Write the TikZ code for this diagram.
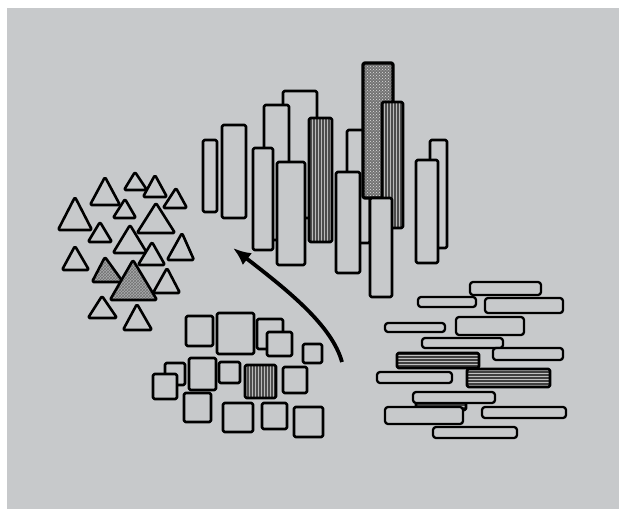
\documentclass[tikz,border=0pt]{standalone}
\usetikzlibrary{arrows.meta,patterns}
\definecolor{paper}{RGB}{199,201,203}
\begin{document}
\begin{tikzpicture}[x=1pt,y=-1pt,>=Latex,
  outl/.style={draw=black,line width=2.6pt,rounded corners=1.5pt,line join=round,fill=paper},
  vhatch/.style={outl,fill=none,preaction={fill=black!70},preaction={pattern=vertical lines,pattern color=gray!55}},
  hhatch/.style={outl,fill=none,preaction={fill=black!75},preaction={pattern=horizontal lines,pattern color=gray!50}},
  dotbox/.style={outl,line width=3.2pt,fill=none,preaction={fill=black!55},preaction={pattern=crosshatch dots,pattern color=gray!25}},
  xhatch/.style={outl,fill=none,preaction={fill=paper!85!black},preaction={pattern=crosshatch,pattern color=black!55}},
  bar/.style={outl,line width=2.3pt,rounded corners=3pt}]
\useasboundingbox (0,0) rectangle (622,509);
\fill[white] (0,0) rectangle (622,509);
\fill[paper] (7,8) rectangle (619,509);

% tall boxes
\draw[outl] (283,91) rectangle (317,218);
\draw[outl] (264,105) rectangle (289,240);
\draw[outl] (253,148) rectangle (273,250);
\draw[outl] (277,162) rectangle (305,265);
\draw[vhatch] (309,118) rectangle (332,242);
\draw[outl] (203,140) rectangle (217,212);
\draw[outl] (222,125) rectangle (246,218);
\draw[outl] (347,130) rectangle (370,243);
\draw[dotbox] (363,63) rectangle (393,198);
\draw[vhatch] (382,102) rectangle (403,228);
\draw[outl] (336,172) rectangle (360,273);
\draw[outl] (370,198) rectangle (392,297);
\draw[outl] (430,140) rectangle (447,248);
\draw[outl] (416,160) rectangle (438,263);

% triangles: left/apex/right x, apex y, base y
\foreach \l/\m/\r/\t/\b in {90/105/120/177/205, 124/135/147/172/190, 143/155/167/175/197,
  163/176/187/188/208, 58/75/92/197/230, 113/125/136/199/218, 137/156/175/203/233,
  88/100/112/222/242, 113/130/147/225/253, 167/182/194/233/260, 62/75/89/246/270,
  138/152/165/242/265}
  \draw[outl] (\l,\b) -- (\m,\t) -- (\r,\b) -- cycle;
\draw[xhatch] (92,282) -- (105,257) -- (123,282) -- cycle;
\draw[xhatch] (110,300) -- (133,260) -- (157,300) -- cycle;
\foreach \l/\m/\r/\t/\b in {153/167/180/268/293, 88/102/117/296/318, 123/137/152/304/330}
  \draw[outl] (\l,\b) -- (\m,\t) -- (\r,\b) -- cycle;

% squares
\foreach \a/\b/\c/\d in {186/316/213/346, 217/313/254/354, 257/319/283/349, 267/332/292/356,
  303/344/322/363, 165/363/185/385, 153/374/177/399, 189/358/216/390, 219/362/240/383}
  \draw[outl] (\a,\b) rectangle (\c,\d);
\draw[vhatch] (245,365) rectangle (276,398);
\foreach \a/\b/\c/\d in {283/367/307/393, 184/393/211/422, 223/403/253/432,
  262/403/287/429, 294/407/323/437}
  \draw[outl] (\a,\b) rectangle (\c,\d);

% flat bars
\foreach \a/\b/\c/\d in {470/282/541/295, 418/297/476/307, 485/298/563/313, 385/323/445/332,
  456/317/524/335, 422/338/503/348, 493/348/563/360}
  \draw[bar] (\a,\b) rectangle (\c,\d);
\draw[bar,hhatch] (397,353) rectangle (479,368);
\draw[bar] (377,372) rectangle (452,383);
\draw[bar,hhatch] (467,369) rectangle (550,387);
\draw[bar,hhatch] (416,397) rectangle (466,410);
\foreach \a/\b/\c/\d in {413/392/495/403, 385/407/463/424, 482/407/566/418, 433/427/517/438}
  \draw[bar] (\a,\b) rectangle (\c,\d);

% arrow
\draw[-{Latex[length=18pt,width=15pt]},line width=3.8pt] (342,362) .. controls (332,326) and (290,292) .. (233,248);
\end{tikzpicture}
\end{document}
